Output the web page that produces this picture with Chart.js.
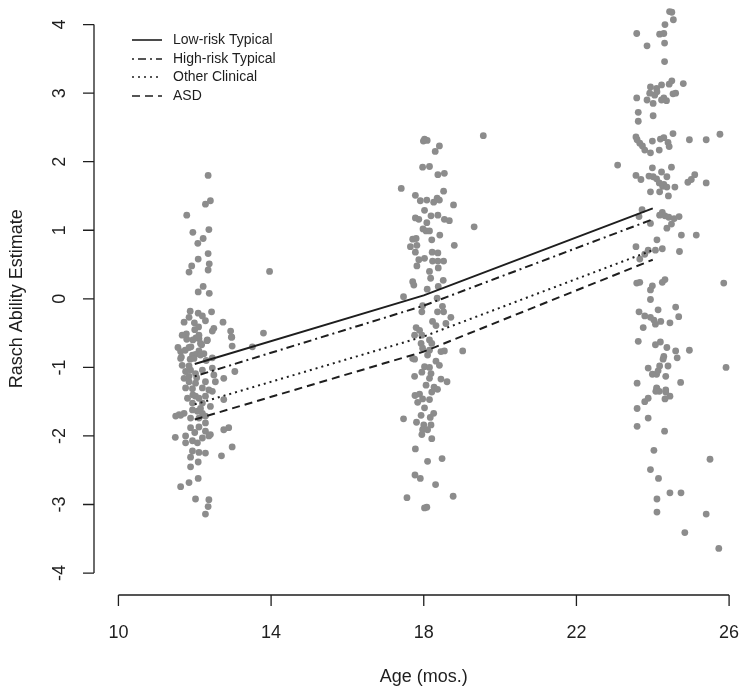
<!DOCTYPE html>
<html>
<head>
<meta charset="utf-8">
<script src="https://cdn.jsdelivr.net/npm/chart.js@4"></script>
<style>
  html, body { margin: 0; padding: 0; background: #fff; }
  #wrap { width: 750px; height: 691px; }
</style>
</head>
<body>
<div id="wrap"><canvas id="chart" width="750" height="691"></canvas></div>
<script>
// --- data ---
const xTicks = [10, 14, 18, 22, 26];
const yTicks = [-4, -3, -2, -1, 0, 1, 2, 3, 4];

// model lines (age in months -> Rasch estimate)
const lineAges = [12, 18, 24];
const lowRiskTypical = [-0.95, 0.05, 1.32];
const highRiskTypical = [-1.13, -0.10, 1.16];
const otherClinical = [-1.54, -0.55, 0.71];
const asdGroup = [-1.76, -0.77, 0.57];

// individual (jittered) observations, [age, estimate]
const visit12 = [
  [12.35,1.80],[12.41,1.43],[12.28,1.38],[11.79,1.22],[12.37,1.01],[11.95,0.97],[12.22,0.88],[12.08,0.81],
  [12.35,0.66],[12.09,0.58],[12.38,0.51],[11.92,0.48],[12.35,0.42],[11.85,0.39],[13.96,0.40],[12.22,0.18],
  [12.09,0.10],[12.38,0.08],[11.88,-0.18],[12.09,-0.21],[12.44,-0.19],[11.85,-0.27],[11.72,-0.34],[11.99,-0.35],
  [12.28,-0.32],[12.74,-0.34],[12.10,-0.41],[12.50,-0.43],[12.46,-0.47],[12.94,-0.47],[11.78,-0.51],[12.97,-0.56],
  [13.80,-0.50],[12.03,-0.57],[11.95,-0.60],[12.11,-0.58],[11.79,-0.59],[12.32,-0.61],[12.18,-0.67],[12.98,-0.69],
  [13.51,-0.70],[11.56,-0.71],[11.75,-0.75],[11.85,-0.71],[12.11,-0.76],[11.94,-0.82],[12.02,-0.81],[12.15,-0.82],
  [12.24,-0.80],[11.65,-0.85],[11.88,-0.88],[11.98,-0.87],[12.46,-0.86],[11.63,-0.77],[11.63,-0.87],[11.67,-0.53],
  [12.11,-0.53],[12.15,-0.65],[12.33,-0.60],[12.96,-0.56],[11.67,-0.97],[11.85,-0.98],[11.76,-1.06],[11.89,-1.04],
  [11.72,-1.16],[11.85,-1.13],[12.02,-1.09],[12.20,-1.04],[12.50,-1.11],[12.76,-1.16],[13.05,-1.06],[12.46,-1.01],
  [11.85,-1.21],[12.02,-1.23],[12.28,-1.21],[12.54,-1.21],[11.76,-1.30],[11.94,-1.31],[12.20,-1.30],[12.37,-1.33],
  [12.46,-1.35],[11.81,-1.45],[12.02,-1.42],[12.11,-1.45],[12.28,-1.42],[12.76,-1.47],[11.94,-1.52],[12.20,-1.52],
  [12.41,-1.57],[11.59,-1.69],[11.72,-1.67],[11.94,-1.62],[12.07,-1.64],[12.20,-1.67],[11.89,-1.74],[12.11,-1.74],
  [12.28,-1.71],[11.63,-1.70],[11.50,-1.71],[12.28,-1.81],[11.89,-1.88],[12.11,-1.87],[12.28,-1.93],[12.41,-1.98],
  [12.76,-1.91],[12.89,-1.88],[11.49,-2.02],[11.76,-2.00],[11.76,-2.10],[11.94,-2.07],[12.07,-2.10],[12.20,-2.03],
  [12.37,-2.00],[12.98,-2.16],[11.94,-2.22],[12.11,-2.24],[12.28,-2.25],[11.89,-2.31],[12.70,-2.29],[12.09,-2.38],
  [11.89,-2.45],[12.09,-2.62],[11.85,-2.68],[11.63,-2.74],[12.02,-2.92],[12.37,-2.93],[12.35,-3.03],[12.28,-3.14],
  [12.00,-0.45],[12.20,-0.25],[11.90,-0.70],[12.30,-0.90],[12.05,-1.15],[11.95,-1.40],[12.15,-1.60],[12.00,-1.95]
];
const visit18 = [
  [18.02,2.33],[18.09,2.31],[17.99,2.30],[18.41,2.23],[18.30,2.15],[19.56,2.38],[17.97,1.92],[18.15,1.93],
  [18.37,1.81],[18.54,1.83],[17.41,1.61],[17.78,1.51],[17.91,1.43],[18.08,1.44],[18.26,1.41],[18.35,1.47],
  [18.41,1.44],[18.52,1.57],[18.78,1.37],[18.02,1.29],[17.78,1.18],[17.87,1.16],[18.19,1.21],[18.37,1.22],
  [18.54,1.16],[18.67,1.14],[18.08,1.11],[19.32,1.05],[17.98,1.02],[18.06,0.99],[18.15,0.99],[18.42,0.93],
  [17.71,0.87],[17.80,0.88],[18.21,0.86],[17.65,0.76],[17.82,0.78],[18.80,0.78],[17.78,0.68],[18.22,0.68],
  [18.37,0.67],[17.87,0.57],[18.02,0.59],[18.23,0.55],[18.37,0.55],[18.52,0.55],[17.82,0.48],[18.38,0.45],
  [18.15,0.40],[18.18,0.30],[18.51,0.27],[17.71,0.25],[17.74,0.20],[18.09,0.14],[18.38,0.18],[17.47,0.03],
  [18.35,0.01],[17.97,-0.10],[18.49,-0.11],[17.95,-0.19],[18.36,-0.19],[18.52,-0.19],[18.71,-0.27],[18.23,-0.33],
  [18.32,-0.39],[18.58,-0.36],[17.80,-0.42],[17.89,-0.46],[17.76,-0.53],[17.95,-0.53],[18.15,-0.60],[17.93,-0.65],
  [18.21,-0.65],[17.97,-0.72],[18.15,-0.75],[18.45,-0.77],[18.54,-0.76],[18.10,-0.82],[17.71,-0.87],[19.02,-0.76],
  [17.76,-0.88],[18.32,-0.91],[18.41,-0.97],[18.02,-0.99],[18.15,-1.00],[17.95,-1.07],[17.76,-1.13],[18.19,-1.09],
  [18.15,-1.16],[18.45,-1.17],[18.61,-1.21],[18.06,-1.26],[18.27,-1.29],[18.36,-1.32],[18.21,-1.36],[17.77,-1.41],
  [17.89,-1.39],[17.97,-1.46],[18.15,-1.47],[17.84,-1.51],[18.02,-1.59],[18.26,-1.67],[17.93,-1.70],[18.17,-1.73],
  [17.47,-1.75],[17.81,-1.80],[18.00,-1.84],[18.19,-1.84],[17.97,-1.91],[18.10,-1.91],[17.95,-1.98],[18.21,-2.04],
  [17.78,-2.19],[18.10,-2.37],[18.48,-2.33],[17.77,-2.57],[17.91,-2.62],[18.31,-2.71],[17.56,-2.90],[18.77,-2.88],
  [18.02,-3.05],[18.08,-3.04]
];
const visit24 = [
  [24.44,4.19],[24.50,4.18],[24.54,4.07],[24.32,4.00],[23.58,3.87],[24.18,3.86],[24.29,3.87],[23.85,3.69],
  [24.31,3.73],[24.31,3.46],[24.50,3.18],[24.80,3.14],[23.94,3.09],[24.10,3.07],[24.23,3.12],[24.43,3.13],
  [23.58,2.93],[23.85,2.90],[23.92,3.00],[24.05,2.97],[24.11,3.02],[24.01,2.85],[24.23,2.90],[24.29,2.93],
  [24.36,2.89],[24.53,2.99],[24.60,3.00],[23.62,2.72],[23.62,2.59],[24.01,2.67],[23.56,2.36],[23.59,2.32],
  [23.66,2.27],[23.73,2.23],[23.79,2.17],[23.94,2.13],[23.99,2.30],[24.17,2.17],[24.20,2.33],[24.29,2.35],
  [24.40,2.28],[24.43,2.22],[24.53,2.41],[24.96,2.32],[25.40,2.32],[25.76,2.40],[23.08,1.95],[23.99,1.91],
  [24.49,1.92],[23.56,1.80],[23.69,1.74],[23.90,1.79],[24.01,1.78],[24.10,1.75],[24.23,1.85],[24.37,1.78],
  [24.17,1.69],[24.26,1.64],[24.29,1.67],[24.37,1.63],[24.58,1.63],[24.92,1.70],[25.01,1.74],[25.10,1.81],
  [25.40,1.69],[23.94,1.56],[24.18,1.56],[24.41,1.50],[23.72,1.30],[23.64,1.20],[23.94,1.10],[24.25,1.26],
  [24.32,1.21],[24.42,1.19],[24.56,1.17],[24.69,1.20],[24.18,1.22],[24.49,1.09],[24.37,1.03],[24.75,0.93],
  [25.14,0.93],[24.11,0.86],[23.56,0.76],[24.25,0.73],[24.07,0.71],[23.88,0.71],[23.79,0.65],[23.66,0.58],
  [24.70,0.69],[23.58,0.23],[23.66,0.24],[23.99,0.19],[23.94,0.13],[24.25,0.24],[24.32,0.28],[25.86,0.23],
  [23.94,-0.01],[23.64,-0.19],[23.79,-0.25],[23.94,-0.27],[24.03,-0.31],[24.07,-0.37],[24.14,-0.16],[24.21,-0.33],
  [24.45,-0.35],[24.60,-0.12],[24.68,-0.26],[23.75,-0.42],[23.62,-0.62],[24.07,-0.67],[24.20,-0.63],[24.37,-0.71],
  [24.60,-0.76],[24.64,-0.86],[24.96,-0.75],[24.29,-0.84],[24.27,-0.88],[24.18,-0.98],[24.40,-0.98],[23.88,-1.01],
  [23.99,-1.10],[24.10,-1.10],[24.14,-1.05],[24.34,-1.13],[25.92,-1.00],[23.59,-1.23],[24.73,-1.22],[24.10,-1.30],
  [24.34,-1.33],[24.11,-1.31],[24.17,-1.35],[24.08,-1.35],[24.34,-1.36],[24.45,-1.42],[24.32,-1.46],[23.88,-1.45],
  [23.79,-1.50],[23.59,-1.60],[23.88,-1.74],[23.59,-1.86],[24.31,-1.93],[24.03,-2.21],[25.50,-2.34],[23.94,-2.49],
  [24.15,-2.62],[24.45,-2.83],[24.74,-2.83],[24.11,-2.92],[24.11,-3.11],[25.40,-3.14],[24.84,-3.41],[25.73,-3.64]
];

const legendNames = ['Low-risk Typical', 'High-risk Typical', 'Other Clinical', 'ASD'];
const INK = '#1e1e1e';
const FONT = '"Liberation Sans", Arial, Helvetica, sans-serif';

function toPoints(arr) {
  return arr.map(p => ({ x: p[0], y: p[1] }));
}
function lineData(vals) {
  return lineAges.map((a, i) => ({ x: a, y: vals[i] }));
}

const lineStyles = [
  { vals: lowRiskTypical, dash: [], width: 2 },
  { vals: highRiskTypical, dash: [2, 4, 8, 4], width: 2 },
  { vals: otherClinical, dash: [2, 4], width: 2 },
  { vals: asdGroup, dash: [8, 5], width: 2 }
];

// R-style detached axes, titles and legend
const rAxes = {
  id: 'rAxes',
  afterDraw(chart) {
    const ctx = chart.ctx;
    const xs = chart.scales.x, ys = chart.scales.y;
    const area = chart.chartArea;
    const tick = 11;
    ctx.save();
    ctx.strokeStyle = INK;
    ctx.fillStyle = INK;
    ctx.lineWidth = 1.3;
    ctx.setLineDash([]);

    // x axis
    const xb = area.bottom;
    ctx.beginPath();
    ctx.moveTo(xs.getPixelForValue(xTicks[0]), xb);
    ctx.lineTo(xs.getPixelForValue(xTicks[xTicks.length - 1]), xb);
    xTicks.forEach(t => {
      const px = xs.getPixelForValue(t);
      ctx.moveTo(px, xb);
      ctx.lineTo(px, xb + tick);
    });
    ctx.stroke();
    ctx.font = '18px ' + FONT;
    ctx.textAlign = 'center';
    ctx.textBaseline = 'middle';
    xTicks.forEach(t => ctx.fillText(String(t), xs.getPixelForValue(t), 633));
    ctx.fillText('Age (mos.)', xs.getPixelForValue(18), 677);

    // y axis
    const yl = area.left;
    ctx.beginPath();
    ctx.moveTo(yl, ys.getPixelForValue(yTicks[0]));
    ctx.lineTo(yl, ys.getPixelForValue(yTicks[yTicks.length - 1]));
    yTicks.forEach(t => {
      const py = ys.getPixelForValue(t);
      ctx.moveTo(yl, py);
      ctx.lineTo(yl - tick, py);
    });
    ctx.stroke();
    yTicks.forEach(t => {
      ctx.save();
      ctx.translate(60, ys.getPixelForValue(t));
      ctx.rotate(-Math.PI / 2);
      ctx.fillText(String(t), 0, 0);
      ctx.restore();
    });
    ctx.save();
    ctx.translate(17, ys.getPixelForValue(0));
    ctx.rotate(-Math.PI / 2);
    ctx.fillText('Rasch Ability Estimate', 0, 0);
    ctx.restore();

    // legend
    ctx.font = '14px ' + FONT;
    ctx.textAlign = 'left';
    const rows = [40, 59, 77, 96];
    legendNames.forEach((name, i) => {
      const st = lineStyles[i];
      ctx.beginPath();
      ctx.lineWidth = 1.6;
      ctx.setLineDash(st.dash);
      ctx.moveTo(132, rows[i]);
      ctx.lineTo(162, rows[i]);
      ctx.stroke();
      ctx.setLineDash([]);
      ctx.fillText(name, 173, rows[i]);
    });
    ctx.restore();
  }
};

const datasets = lineStyles.map((s, i) => ({
  type: 'line',
  label: legendNames[i],
  data: lineData(s.vals),
  borderColor: INK,
  borderWidth: s.width,
  borderDash: s.dash,
  pointRadius: 0,
  fill: false,
  tension: 0,
  order: 0
}));

datasets.push({
  type: 'scatter',
  label: 'Observations',
  data: toPoints(visit12.concat(visit18, visit24)),
  backgroundColor: 'rgb(140,140,140)',
  borderWidth: 0,
  pointRadius: 3.4,
  order: 1,
  clip: false
});

new Chart(document.getElementById('chart'), {
  type: 'scatter',
  data: { datasets },
  options: {
    responsive: false,
    animation: false,
    layout: { padding: { left: 94, right: 0, top: 0, bottom: 96 } },
    plugins: { legend: { display: false }, tooltip: { enabled: false } },
    scales: {
      x: { type: 'linear', display: false, min: 9.36, max: 26.443 },
      y: { type: 'linear', display: false, min: -4.32, max: 4.30 }
    }
  },
  plugins: [rAxes]
});
</script>
</body>
</html>
